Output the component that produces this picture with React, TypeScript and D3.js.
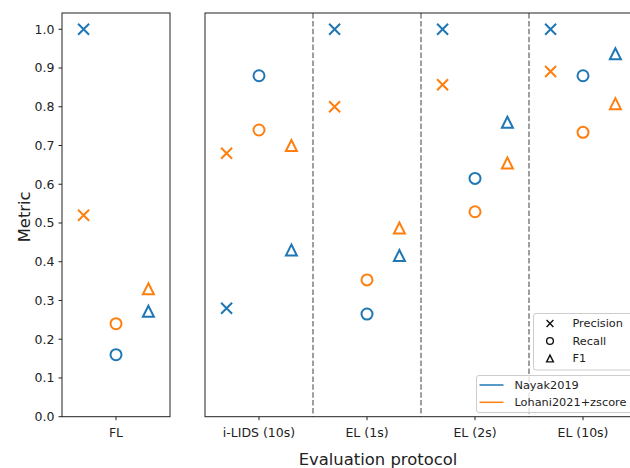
import React from "react";
import * as d3 from "d3";

// data
const categories = ["FL", "i-LIDS (10s)", "EL (1s)", "EL (2s)", "EL (10s)"];
const leftCategories = ["FL"];
const rightCategories = ["i-LIDS (10s)", "EL (1s)", "EL (2s)", "EL (10s)"];
const metrics = ["Precision", "Recall", "F1"];
const methods = ["Nayak2019", "Lohani2021+zscore"];

const nayakPrecision = [1.0, 0.28, 1.0, 1.0, 1.0];
const nayakRecall = [0.16, 0.88, 0.265, 0.615, 0.88];
const nayakF1 = [0.272, 0.43, 0.416, 0.76, 0.937];
const lohaniPrecision = [0.52, 0.68, 0.8, 0.857, 0.891];
const lohaniRecall = [0.24, 0.74, 0.353, 0.529, 0.734];
const lohaniF1 = [0.33, 0.7, 0.487, 0.655, 0.808];

const yTicks = [0, 0.1, 0.2, 0.3, 0.4, 0.5, 0.6, 0.7, 0.8, 0.9, 1.0];

const W = 630,
  H = 468;
const top = 13,
  bottom = 416.7;
const font = "DejaVu Sans, sans-serif";
const tickSize = 12.5;

const colors = d3.scaleOrdinal<string, string>().domain(methods).range(["#1f77b4", "#ff7f0e"]);
const seriesValues: Record<string, number[][]> = {
  Nayak2019: [nayakPrecision, nayakRecall, nayakF1],
  "Lohani2021+zscore": [lohaniPrecision, lohaniRecall, lohaniF1],
};

const y = d3.scaleLinear().domain([0, 1.042]).range([bottom, top]);
const offset = d3.scalePoint().domain(metrics).range([-0.3, 0.3]);

function Marker({ metric, x, y, color, s, sw }: any) {
  if (metric === "Precision") {
    return (
      <path
        d={`M${x - s},${y - s}L${x + s},${y + s}M${x - s},${y + s}L${x + s},${y - s}`}
        stroke={color}
        strokeWidth={sw}
        fill="none"
      />
    );
  }
  if (metric === "Recall") {
    return <circle cx={x} cy={y} r={s} stroke={color} strokeWidth={sw} fill="none" />;
  }
  return (
    <path
      d={`M${x},${y - s}L${x - s},${y + s}L${x + s},${y + s}Z`}
      stroke={color}
      strokeWidth={sw}
      strokeLinejoin="miter"
      fill="none"
    />
  );
}

function Panel({ cats, x0, x1, showY }: any) {
  const x = d3.scaleBand().domain(cats).range([x0, x1]).padding(0);
  const bw = x.bandwidth();
  return (
    <g>
      {/* dashed separators */}
      {cats.slice(1).map((c: string) => (
        <line
          key={"sep" + c}
          x1={x(c)}
          x2={x(c)}
          y1={top}
          y2={bottom}
          stroke="#808080"
          strokeWidth={1.5}
          strokeDasharray="5.5,2.4"
        />
      ))}
      {/* markers */}
      {methods.map((m) =>
        metrics.map((met, mi) =>
          cats.map((c: string) => {
            const ci = categories.indexOf(c);
            const v = seriesValues[m][mi][ci];
            const cx = (x(c) as number) + bw / 2 + (offset(met) as number) * bw;
            return <Marker key={m + met + c} metric={met} x={cx} y={y(v)} color={colors(m)} s={5.5} sw={2} />;
          })
        )
      )}
      {/* frame */}
      <rect x={x0} y={top} width={x1 - x0} height={bottom - top} fill="none" stroke="#222" strokeWidth={1} />
      {/* x ticks */}
      {cats.map((c: string) => {
        const cx = (x(c) as number) + bw / 2;
        return (
          <g key={"xt" + c}>
            <line x1={cx} x2={cx} y1={bottom} y2={bottom + 3.5} stroke="#222" strokeWidth={1} />
            <text x={cx} y={bottom + 20} textAnchor="middle" fontSize={tickSize} fontFamily={font} fill="#222">
              {c}
            </text>
          </g>
        );
      })}
      {showY &&
        yTicks.map((t) => (
          <g key={"yt" + t}>
            <line x1={x0 - 3.5} x2={x0} y1={y(t)} y2={y(t)} stroke="#222" strokeWidth={1} />
            <text
              x={x0 - 7.5}
              y={y(t)}
              dy="0.35em"
              textAnchor="end"
              fontSize={tickSize}
              fontFamily={font}
              fill="#222"
            >
              {d3.format(".1f")(t)}
            </text>
          </g>
        ))}
    </g>
  );
}

export default function App() {
  return (
    <svg
      width={W}
      height={H}
      style={{ position: "absolute", left: 0, top: 0, background: "#fff" }}
      xmlns="http://www.w3.org/2000/svg"
    >
      <rect width={W} height={H} fill="#fff" />
      <Panel cats={leftCategories} x0={62} x1={170} showY={true} />
      <Panel cats={rightCategories} x0={205} x1={637} showY={false} />

      {/* axis labels */}
      <text
        transform={`translate(29.5,${(top + bottom) / 2 + 2}) rotate(-90)`}
        textAnchor="middle"
        fontSize={16.4}
        fontFamily={font}
        fill="#222"
      >
        Metric
      </text>
      <text x={378} y={465} textAnchor="middle" fontSize={16.4} fontFamily={font} fill="#222">
        Evaluation protocol
      </text>

      {/* marker legend */}
      <rect x={533.5} y={313.5} width={102} height={56.5} rx={2.5} fill="#fff" fillOpacity={0.8} stroke="#cccccc" strokeWidth={1} />
      {metrics.map((met, i) => {
        const ry = 323.5 + i * 17.5;
        return (
          <g key={"lm" + met}>
            <Marker metric={met} x={550} y={ry} color="#111" s={3.4} sw={1.4} />
            <text x={572.5} y={ry} dy="0.35em" fontSize={11.3} fontFamily={font} fill="#222">
              {met}
            </text>
          </g>
        );
      })}

      {/* colour legend */}
      <rect x={476.5} y={375.5} width={158} height={37} rx={2.5} fill="#fff" fillOpacity={0.8} stroke="#cccccc" strokeWidth={1} />
      {methods.map((m, i) => {
        const ry = 385 + i * 17.3;
        return (
          <g key={"lc" + m}>
            <line x1={479.5} x2={503.5} y1={ry} y2={ry} stroke={colors(m)} strokeWidth={1.5} />
            <text x={514.5} y={ry} dy="0.35em" fontSize={11.3} fontFamily={font} fill="#222">
              {m}
            </text>
          </g>
        );
      })}
    </svg>
  );
}
